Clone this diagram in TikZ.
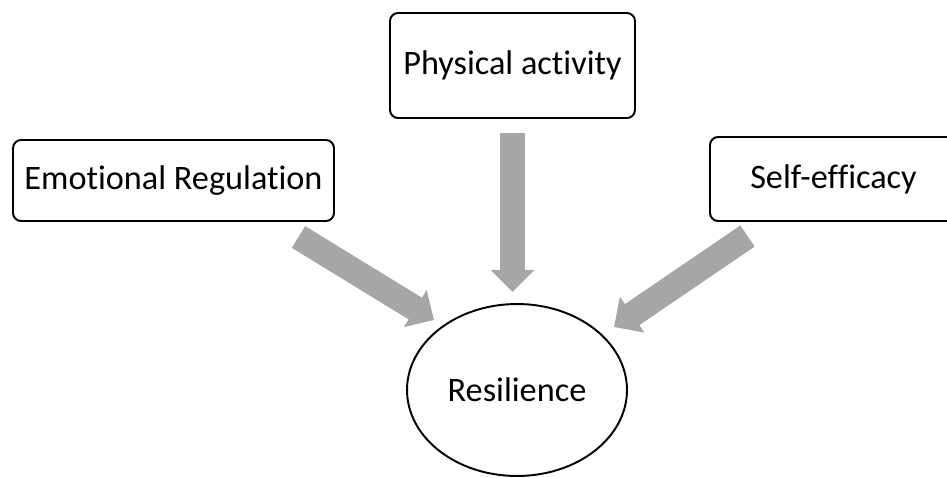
\documentclass[tikz,border=0pt]{standalone}
\usepackage{fontspec}
\setmainfont{Carlito}[Ligatures=NoCommon]
\usetikzlibrary{shapes.geometric,arrows.meta}
\definecolor{arrowgray}{RGB}{166,166,166}
\tikzset{
  factor/.style={draw, line width=1.1pt, rounded corners=0.16cm, fill=white,
    inner sep=0pt, font=\fontsize{19.5}{23}\selectfont},
  outcome/.style={draw, ellipse, line width=1.1pt, inner sep=0pt,
    minimum width=4.4cm, minimum height=3.44cm, font=\fontsize{19.5}{23}\selectfont},
  bigarrow/.style={draw=arrowgray, line width=14.5pt,
    -{Triangle[width=24pt,length=12.5pt]}}
}

\begin{document}
\begin{tikzpicture}[x=0.02cm, y=-0.02cm]
          \useasboundingbox (0, 0) rectangle (947, 477);
          \node[factor, minimum width=4.9cm, minimum height=2.1cm] (phys) at (512.5, 65.5) {Physical activity};
          \node[factor, minimum width=6.42cm, minimum height=1.62cm] (emo) at (173.5, 180.5) {Emotional Regulation};
          \node[factor, minimum width=4.94cm, minimum height=1.68cm] (self) at (833.5, 179) {Self-efficacy};
          \node[outcome] (res) at (517, 390) {Resilience};
          %
          \coordinate (emo-out) at (298.5, 237);
          \coordinate (phys-out) at (512.5, 133);
          \coordinate (self-out) at (747.5, 236);
          \coordinate (res-left) at (434, 320);
          \coordinate (res-top) at (512.5, 292);
          \coordinate (res-right) at (614, 327);
          %
          \draw[bigarrow] (emo-out) -- (res-left);
          \draw[bigarrow] (phys-out) -- (res-top);
          \draw[bigarrow] (self-out) -- (res-right);
        \end{tikzpicture}
\end{document}
